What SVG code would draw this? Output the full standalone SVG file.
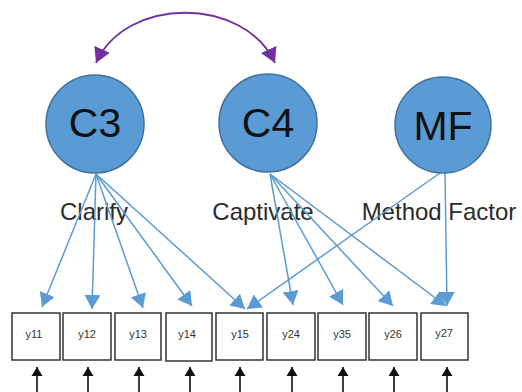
<svg xmlns="http://www.w3.org/2000/svg" width="522" height="392" viewBox="0 0 522 392">
  <style>
    .latent { fill: #5B9BD5; stroke: #41719C; stroke-width: 1.5; }
    .latent-label { font-family: "Liberation Sans", Arial, sans-serif; font-size: 41px; fill: #111; text-anchor: middle; }
    .factor-name { font-family: "Liberation Sans", Arial, sans-serif; font-size: 24px; fill: #2b2b2b; text-anchor: middle; }
    .item { fill: #fff; stroke: #333; stroke-width: 1.5; }
    .item-label { font-family: "Liberation Sans", Arial, sans-serif; font-size: 11px; fill: #333; text-anchor: middle; }
    .loading { stroke: #5B9BD5; stroke-width: 1.5; fill: none; marker-end: url(#blueHead); }
    .error { stroke: #111; stroke-width: 1.6; fill: none; marker-end: url(#blackHead); }
    .covar { stroke: #7030A0; stroke-width: 1.8; fill: none; marker-start: url(#purpleHeadStart); marker-end: url(#purpleHead); }
  </style>
  <defs>
    <marker id="blueHead" markerUnits="userSpaceOnUse" markerWidth="16" markerHeight="16" refX="14" refY="8" orient="auto" viewBox="0 0 16 16">
      <path d="M0,0 L14,8 L0,16 z" fill="#5B9BD5"/>
    </marker>
    <marker id="blackHead" markerUnits="userSpaceOnUse" markerWidth="12" markerHeight="12" refX="9" refY="6" orient="auto" viewBox="0 0 12 12">
      <path d="M0,0.5 L9,6 L0,11.5 z" fill="#111"/>
    </marker>
    <marker id="purpleHead" markerUnits="userSpaceOnUse" markerWidth="17" markerHeight="17" refX="15" refY="8.5" orient="auto" viewBox="0 0 17 17">
      <path d="M0,0 L15,8.5 L0,17 z" fill="#7030A0"/>
    </marker>
    <marker id="purpleHeadStart" markerUnits="userSpaceOnUse" markerWidth="17" markerHeight="17" refX="2" refY="8.5" orient="auto" viewBox="0 0 17 17">
      <path d="M17,0 L2,8.5 L17,17 z" fill="#7030A0"/>
    </marker>
  </defs>

  <!-- factor labels (drawn beneath the loading lines) -->
  <text class="factor-name" x="94" y="220">Clarify</text>
  <text class="factor-name" x="263" y="220">Captivate</text>
  <text class="factor-name" x="439" y="220">Method Factor</text>

  <!-- connectors -->
  <g id="connectors">
    <path class="covar" d="M96,63 C126,-4 244,-4 275,63"/>
    <!-- C3 loadings -->
    <line class="loading" x1="96" y1="174" x2="42" y2="307"/>
    <line class="loading" x1="96" y1="174" x2="92" y2="309"/>
    <line class="loading" x1="96" y1="174" x2="143" y2="308"/>
    <line class="loading" x1="96" y1="174" x2="192" y2="306"/>
    <line class="loading" x1="96" y1="174" x2="245" y2="309"/>
    <!-- C4 loadings -->
    <line class="loading" x1="270" y1="174" x2="293" y2="305"/>
    <line class="loading" x1="270" y1="174" x2="343" y2="305"/>
    <line class="loading" x1="270" y1="174" x2="393" y2="306"/>
    <line class="loading" x1="270" y1="174" x2="446" y2="306"/>
    <!-- method factor loadings -->
    <line class="loading" x1="440" y1="173" x2="247" y2="309"/>
    <line class="loading" x1="445" y1="173" x2="447" y2="306"/>
    <!-- error terms -->
    <line class="error" x1="37" y1="392" x2="37" y2="367"/>
    <line class="error" x1="88" y1="392" x2="88" y2="367"/>
    <line class="error" x1="139" y1="392" x2="139" y2="367"/>
    <line class="error" x1="190" y1="392" x2="190" y2="367"/>
    <line class="error" x1="240" y1="392" x2="240" y2="367"/>
    <line class="error" x1="292" y1="392" x2="292" y2="367"/>
    <line class="error" x1="343" y1="392" x2="343" y2="367"/>
    <line class="error" x1="394" y1="392" x2="394" y2="367"/>
    <line class="error" x1="447" y1="392" x2="447" y2="367"/>
  </g>

  <!-- latent factors -->
  <g id="C3">
    <circle class="latent" cx="95" cy="124" r="49"/>
    <text class="latent-label" x="95" y="137">C3</text>
  </g>
  <g id="C4">
    <circle class="latent" cx="268" cy="123" r="49"/>
    <text class="latent-label" x="268" y="137">C4</text>
  </g>
  <g id="MF">
    <circle class="latent" cx="443" cy="125" r="48"/>
    <text class="latent-label" x="443" y="140">MF</text>
  </g>

  <!-- observed items -->
  <g id="y11"><rect class="item" x="12" y="313" width="48" height="47"/><text class="item-label" x="34" y="338">y11</text></g>
  <g id="y12"><rect class="item" x="63" y="313" width="48" height="47"/><text class="item-label" x="87" y="338">y12</text></g>
  <g id="y13"><rect class="item" x="115" y="313" width="46" height="47"/><text class="item-label" x="138" y="338">y13</text></g>
  <g id="y14"><rect class="item" x="166" y="313" width="46" height="48"/><text class="item-label" x="187" y="338">y14</text></g>
  <g id="y15"><rect class="item" x="216" y="313" width="47" height="47"/><text class="item-label" x="240" y="338">y15</text></g>
  <g id="y24"><rect class="item" x="267" y="313" width="48" height="47"/><text class="item-label" x="291" y="338">y24</text></g>
  <g id="y35"><rect class="item" x="318" y="313" width="48" height="47"/><text class="item-label" x="342" y="338">y35</text></g>
  <g id="y26"><rect class="item" x="369" y="313" width="48" height="47"/><text class="item-label" x="393" y="338">y26</text></g>
  <g id="y27"><rect class="item" x="421" y="313" width="47" height="47"/><text class="item-label" x="444" y="337">y27</text></g>
</svg>
